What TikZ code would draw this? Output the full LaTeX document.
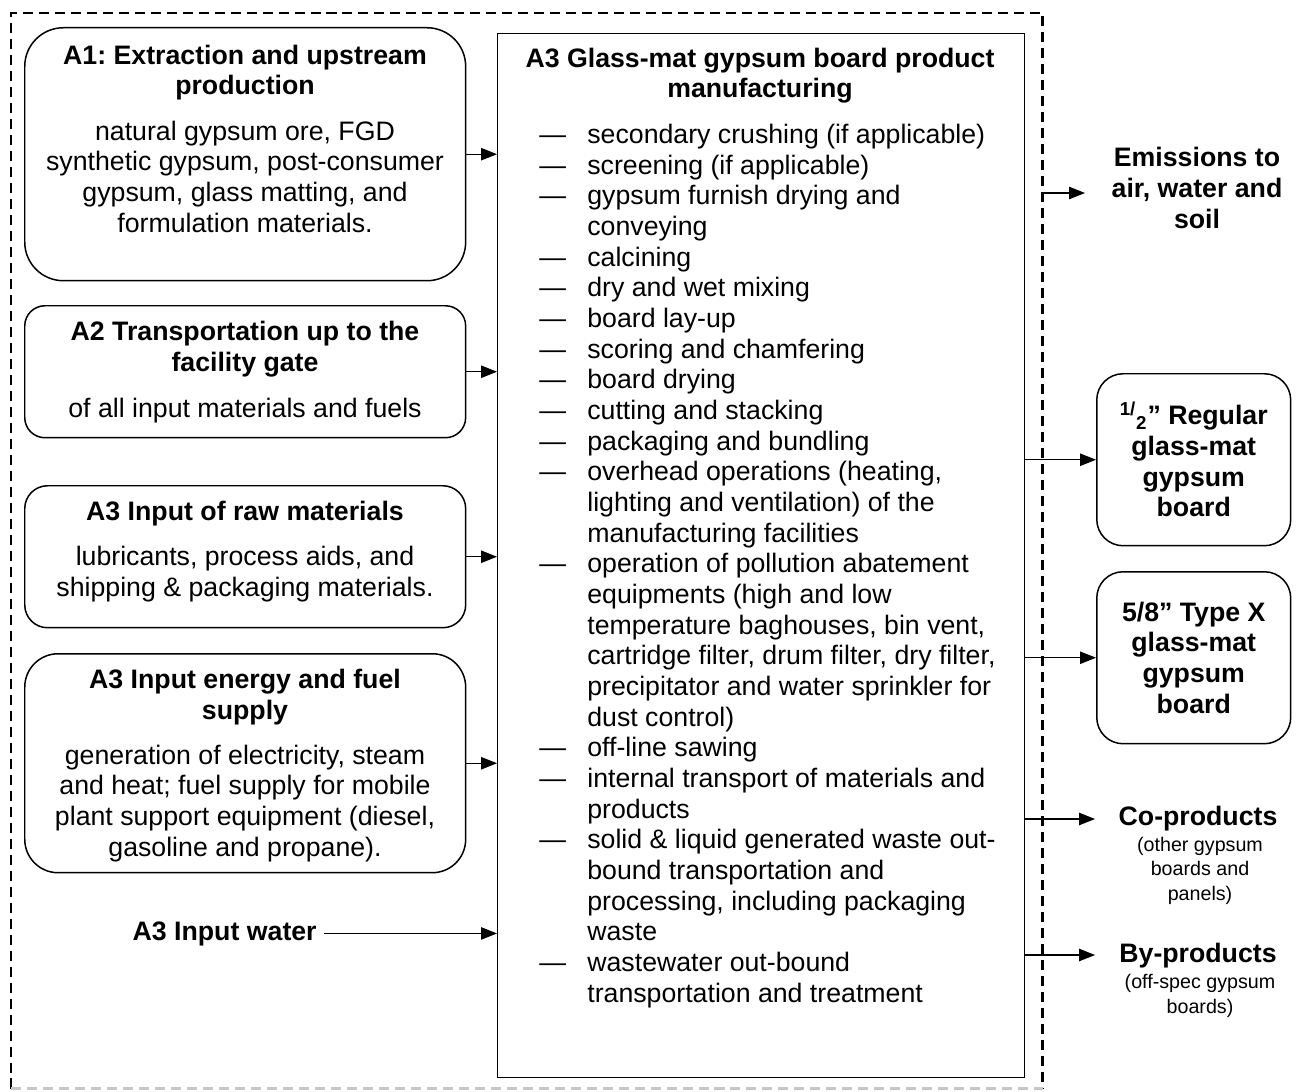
\documentclass[tikz,border=0pt]{standalone}
\usepackage{fontspec}
\setmainfont{Liberation Sans}
\usetikzlibrary{arrows.meta}
\frenchspacing

\newcommand{\bodyfont}{\fontsize{15.2}{17.45}\selectfont}
\newcommand{\notefont}{\fontsize{11.2}{13.8}\selectfont}
\newcommand{\stepdash}{\makebox[0.96cm][l]{—}}
\newcommand{\stepcont}{\hspace*{0.96cm}}

\tikzset{
	stage/.style={draw, line width=0.85pt, anchor=north west, inner sep=0pt, minimum width=8.82cm},
	outbox/.style={draw, line width=0.85pt, anchor=north west, rounded corners=15pt, minimum width=3.88cm, minimum height=3.44cm, align=center, font=\bodyfont\bfseries},
	headtext/.style={font=\bodyfont\bfseries, align=center, anchor=base, inner sep=0pt},
	bodytext/.style={font=\bodyfont, align=center, anchor=base, inner sep=0pt},
	notetext/.style={font=\notefont, align=center, anchor=base, inner sep=0pt},
	flow/.style={line width=0.6pt, -{Triangle[length=9pt, width=7pt]}},
	sysline/.style={line width=1.4pt, dash pattern=on 5.7pt off 3.4pt}
}

\begin{document}
\begin{tikzpicture}[x=0.02cm, y=-0.02cm]
	\useasboundingbox (0,0) rectangle (1300,1091);
	\node[anchor=north west, inner sep=0pt, minimum width=20.62cm, minimum height=21.5cm, name=system] at (11,13) {};
	\draw[sysline] (system.south west) -- (system.north west) -- (system.north east) -- (system.south east);
	\draw[sysline, gray!45] (system.south west) -- (system.south east);

	% multi-line texts sit on the baseline of their last line
	\node[stage, rounded corners=22pt, minimum height=5.06cm, name=a1] at (24,27) {};
	\node[headtext, name=a1head] at (245,95) {A1: Extraction and upstream\\production};
	\node[bodytext, name=a1body] at (245,232) {natural gypsum ore, FGD\\synthetic gypsum, post-consumer\\gypsum, glass matting, and\\formulation materials.};

	\node[stage, rounded corners=11.5pt, minimum height=2.64cm, name=a2] at (24,305) {};
	\node[headtext, name=a2head] at (245,371) {A2 Transportation up to the\\facility gate};
	\node[bodytext, name=a2body] at (245,417) {of all input materials and fuels};

	\node[stage, rounded corners=13pt, minimum height=2.84cm, name=raw] at (24,485) {};
	\node[headtext, name=rawhead] at (245,520) {A3 Input of raw materials};
	\node[bodytext, name=rawbody] at (245,596) {lubricants, process aids, and\\shipping \& packaging materials.};

	\node[stage, rounded corners=19pt, minimum height=4.38cm, name=energy] at (24,653) {};
	\node[headtext, name=energyhead] at (245,719) {A3 Input energy and fuel\\supply};
	\node[bodytext, name=energybody] at (245,856) {generation of electricity, steam\\and heat; fuel supply for mobile\\plant support equipment (diesel,\\gasoline and propane).};

	\node[headtext, anchor=base east, name=water] at (317,940) {A3 Input water};

	\node[draw, line width=0.7pt, anchor=north west, inner sep=0pt, minimum width=10.54cm, minimum height=20.88cm, name=mfg] at (497,33) {};
	\node[headtext, name=mfghead] at (760,98) {A3 Glass-mat gypsum board product\\manufacturing};
	\node[bodytext, align=left, anchor=base west, name=mfgsteps] at (539,1002) {%
		\stepdash secondary crushing (if applicable)\\
		\stepdash screening (if applicable)\\
		\stepdash gypsum furnish drying and\\
		\stepcont conveying\\
		\stepdash calcining\\
		\stepdash dry and wet mixing\\
		\stepdash board lay-up\\
		\stepdash scoring and chamfering\\
		\stepdash board drying\\
		\stepdash cutting and stacking\\
		\stepdash packaging and bundling\\
		\stepdash overhead operations (heating,\\
		\stepcont lighting and ventilation) of the\\
		\stepcont manufacturing facilities\\
		\stepdash operation of pollution abatement\\
		\stepcont equipments (high and low\\
		\stepcont temperature baghouses, bin vent,\\
		\stepcont cartridge filter, drum filter, dry filter,\\
		\stepcont precipitator and water sprinkler for\\
		\stepcont dust control)\\
		\stepdash off-line sawing\\
		\stepdash internal transport of materials and\\
		\stepcont products\\
		\stepdash solid \& liquid generated waste out-\\
		\stepcont bound transportation and\\
		\stepcont processing, including packaging\\
		\stepcont waste\\
		\stepdash wastewater out-bound\\
		\stepcont transportation and treatment};

	\node[headtext, name=emis] at (1197,228) {Emissions to\\air, water and\\soil};
	\node[outbox, name=regular] at (1096,373) {\textsuperscript{1/}\textsubscript{2}” Regular\\glass-mat\\gypsum\\board};
	\node[outbox, name=typex] at (1096,571) {5/8” Type X\\glass-mat\\gypsum\\board};
	\node[headtext, name=coprod] at (1198,825) {Co-products};
	\node[notetext, name=coprodnote] at (1200,900) {(other gypsum\\boards and\\panels)};
	\node[headtext, name=byprod] at (1198,962) {By-products};
	\node[notetext, name=byprodnote] at (1200,1013) {(off-spec gypsum\\boards)};

	\coordinate (emistip) at (1085,193);
	\coordinate (cotip) at (1095,819);
	\coordinate (bytip) at (1095,955);

	\draw[flow] (a1.east) -- (a1.east -| mfg.west);
	\draw[flow] (a2.east) -- (a2.east -| mfg.west);
	\draw[flow] (raw.east) -- (raw.east -| mfg.west);
	\draw[flow] (energy.east) -- (energy.east -| mfg.west);
	\draw[flow] ([xshift=4pt]water.east) -- (water.east -| mfg.west);
	\draw[flow] (emistip -| system.east) -- (emistip);
	\draw[flow] (mfg.east |- regular.west) -- (regular.west);
	\draw[flow] (mfg.east |- typex.west) -- (typex.west);
	\draw[flow] (cotip -| mfg.east) -- (cotip);
	\draw[flow] (bytip -| mfg.east) -- (bytip);
\end{tikzpicture}
\end{document}
